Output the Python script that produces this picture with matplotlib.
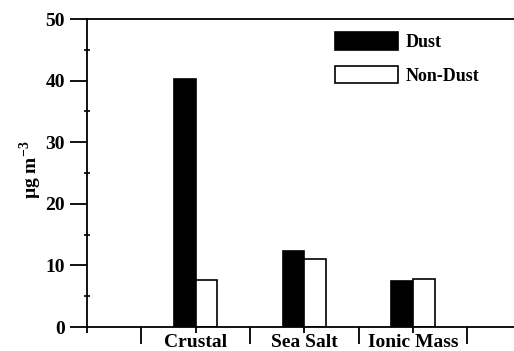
"""Dust vs non-dust mass concentration bar chart."""
import matplotlib

matplotlib.use("Agg")
import matplotlib.pyplot as plt
import numpy as np
from matplotlib.patches import Patch

categories = ["Crustal", "Sea Salt", "Ionic Mass"]
dust = [40.3, 12.3, 7.4]
non_dust = [7.7, 11.0, 7.8]

plt.rcParams["font.family"] = ["Liberation Serif", "DejaVu Serif"]
plt.rcParams["font.weight"] = "bold"
plt.rcParams["mathtext.fontset"] = "custom"
plt.rcParams["mathtext.rm"] = "Liberation Serif:bold"
plt.rcParams["mathtext.bf"] = "Liberation Serif:bold"

fig = plt.figure(figsize=(5.14, 3.51), dpi=100)
ax = fig.add_axes([87 / 514, 24 / 351, 1 - 87 / 514, 308 / 351])

x = np.arange(len(categories))
w = 0.2
ax.bar(x - w / 2, dust, w, color="black", edgecolor="black", linewidth=1.2, label="Dust")
ax.bar(x + w / 2, non_dust, w, color="white", edgecolor="black", linewidth=1.2, label="Non-Dust")

ax.set_xlim(-1, 2.93)
ax.set_ylim(0, 50)
ax.spines["right"].set_visible(False)
for s in ("left", "bottom", "top"):
    ax.spines[s].set_linewidth(1.3)

ax.set_yticks(np.arange(0, 51, 10))
ax.set_yticks(np.arange(5, 50, 10), minor=True)
ax.tick_params(axis="y", which="major", direction="out", length=12, width=1.3,
               labelsize=14, pad=4)
ax.tick_params(axis="y", which="minor", direction="inout", length=4, width=1.2)

ax.set_xticks([-1, *x])
ax.set_xticklabels(["", *categories])
ax.set_xticks([-0.5, 0.5, 1.5, 2.5], minor=True)
ax.tick_params(axis="x", which="major", direction="out", length=4, width=1.3,
               labelsize=14, pad=1)
ax.tick_params(axis="x", which="minor", direction="out", length=12, width=1.3)

ax.set_ylabel(r"µg m$^{-3}$", fontsize=14, fontweight="bold")
ax.yaxis.set_label_coords(-0.10, 0.51)

handles = [Patch(facecolor="black", edgecolor="black", linewidth=1.2),
           Patch(facecolor="white", edgecolor="black", linewidth=1.2)]
fig.legend(handles, ["Dust", "Non-Dust"], loc="upper left",
           bbox_to_anchor=(335 / 514, 1 - 32 / 351), frameon=False,
           fontsize=13, handlelength=3.5, handleheight=1.15, labelspacing=0.8,
           handletextpad=0.4, borderpad=0, borderaxespad=0)

fig.savefig("out.png", dpi=100)
plt.close(fig)
